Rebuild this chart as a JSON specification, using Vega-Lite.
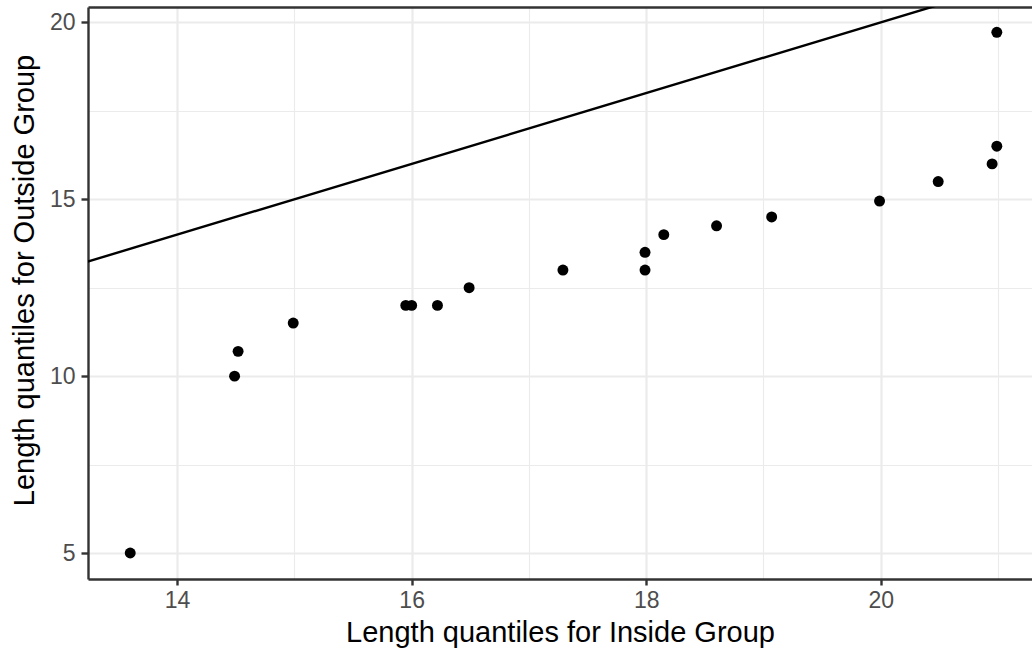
{
  "$schema": "https://vega.github.io/schema/vega-lite/v6.json",
  "width": 944,
  "height": 572,
  "autosize": {"type": "none"},
  "padding": {"left": 88, "top": 7, "right": 0, "bottom": 74},
  "config": {
    "view": {"stroke": null},
    "font": "Liberation Sans",
    "axis": {
      "labelFont": "Liberation Sans",
      "titleFont": "Liberation Sans",
      "labelFontSize": 23,
      "titleFontSize": 29,
      "labelColor": "#4D4D4D",
      "titleColor": "#000000",
      "titleFontWeight": "normal",
      "domainColor": "#333333",
      "domainWidth": 2.4,
      "tickColor": "#333333",
      "tickWidth": 2.4,
      "gridColor": "#EBEBEB"
    }
  },
  "datasets": {
    "points": [
      {"inside": 13.6, "outside": 5.0},
      {"inside": 14.49, "outside": 10.0},
      {"inside": 14.52, "outside": 10.7},
      {"inside": 14.99, "outside": 11.5},
      {"inside": 15.95, "outside": 12.0},
      {"inside": 16.0, "outside": 12.0},
      {"inside": 16.22, "outside": 12.0},
      {"inside": 16.49, "outside": 12.5},
      {"inside": 17.29, "outside": 13.0},
      {"inside": 17.99, "outside": 13.0},
      {"inside": 17.99, "outside": 13.5},
      {"inside": 18.15, "outside": 14.0},
      {"inside": 18.6, "outside": 14.25},
      {"inside": 19.07, "outside": 14.5},
      {"inside": 19.99, "outside": 14.95},
      {"inside": 20.49, "outside": 15.5},
      {"inside": 20.95, "outside": 16.0},
      {"inside": 20.99, "outside": 16.5},
      {"inside": 20.99, "outside": 19.72}
    ],
    "identity": [
      {"inside": 13.0, "outside": 13.0},
      {"inside": 22.0, "outside": 22.0}
    ]
  },
  "layer": [
    {
      "data": {"name": "identity"},
      "mark": {"type": "line", "color": "#000000", "strokeWidth": 2.4, "clip": true},
      "encoding": {
        "x": {
          "field": "inside",
          "type": "quantitative",
          "scale": {"domain": [13.24, 21.29], "nice": false, "zero": false},
          "axis": {
            "orient": "bottom",
            "title": "Length quantiles for Inside Group",
            "values": [14, 15, 16, 17, 18, 19, 20, 21],
            "labelExpr": "datum.value % 2 === 0 ? datum.label : ''",
            "tickSize": 6,
            "labelPadding": 4,
            "titlePadding": 6,
            "domain": true,
            "grid": true,
            "gridWidth": {"condition": {"test": "datum.value % 2 === 0", "value": 2.2}, "value": 1.1},
            "tickOpacity": {"condition": {"test": "datum.value % 2 === 0", "value": 1}, "value": 0}
          }
        },
        "y": {
          "field": "outside",
          "type": "quantitative",
          "scale": {"domain": [4.265, 20.435], "nice": false, "zero": false},
          "axis": {
            "orient": "left",
            "title": "Length quantiles for Outside Group",
            "values": [5, 7.5, 10, 12.5, 15, 17.5, 20],
            "labelExpr": "datum.value % 5 === 0 ? datum.label : ''",
            "tickSize": 7,
            "labelPadding": 6,
            "titlePadding": 10,
            "titleY": 273,
            "domain": true,
            "grid": true,
            "gridWidth": {"condition": {"test": "datum.value % 5 === 0", "value": 2.2}, "value": 1.1},
            "tickOpacity": {"condition": {"test": "datum.value % 5 === 0", "value": 1}, "value": 0}
          }
        }
      }
    },
    {
      "data": {"name": "points"},
      "mark": {"type": "circle", "color": "#000000", "opacity": 1, "size": 120},
      "encoding": {
        "x": {
          "field": "inside",
          "type": "quantitative",
          "axis": {"orient": "top", "title": null, "labels": false, "ticks": false, "grid": false, "domain": true}
        },
        "y": {"field": "outside", "type": "quantitative"}
      }
    }
  ],
  "resolve": {"axis": {"x": "independent"}}
}
